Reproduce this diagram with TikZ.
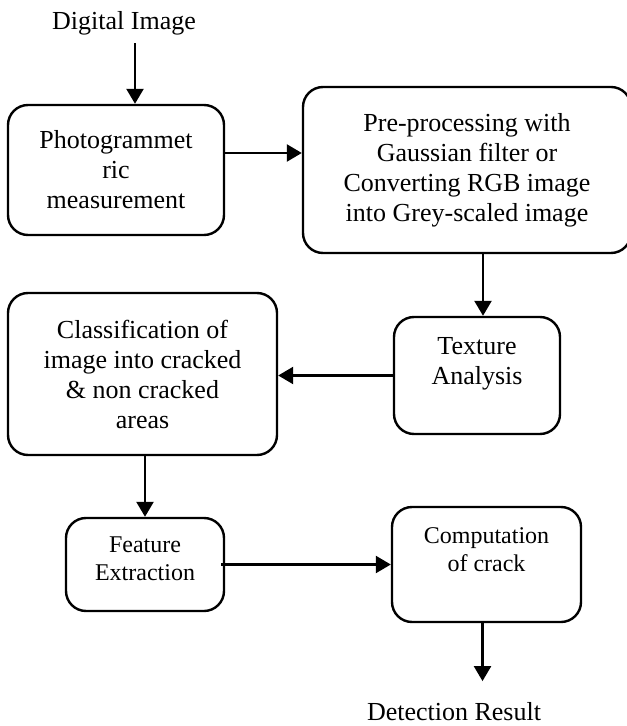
\documentclass[tikz,border=0pt]{standalone}
\usepackage{fontspec}
\setmainfont{Liberation Serif}
\usetikzlibrary{arrows.meta}
\begin{document}
\begin{tikzpicture}[x=0.5pt, y=-0.5pt, line width=1.2pt,
  main/.style = {draw, rounded corners=10pt, align=center, inner sep=0pt, font=\fontsize{13}{15}\selectfont},
  txt/.style = {align=center, font=\fontsize{13}{15}\selectfont},
  small/.style = {align=center, font=\fontsize{12}{13.8}\selectfont},
  arr/.style = {-{Triangle[width=8.5pt,length=7.5pt]}}]
\useasboundingbox (0,0) rectangle (626,726);

\node[txt, anchor=base] (0) at (124,30) {Digital Image};
\node[main, minimum width=108pt, minimum height=65pt] (1) at (116,170) {Photogrammet\\ric\\measurement};
\node[main, minimum width=164pt, minimum height=83pt] (2) at (467,170) {Pre-processing with\\Gaussian filter or\\Converting RGB image\\into Grey-scaled image};
\node[main, minimum width=83pt, minimum height=58.5pt] (3) at (477,375.5) {};
\node[txt] (3t) at ([yshift=6pt]3.center) {Texture\\Analysis};
\node[main, minimum width=134.5pt, minimum height=81pt] (4) at (142.5,374) {Classification of\\image into cracked\\\& non cracked\\areas};
\node[main, minimum width=79pt, minimum height=46.5pt] (5) at (145,564.5) {};
\node[small] (5t) at ([yshift=3pt]5.center) {Feature\\Extraction};
\node[main, minimum width=94.5pt, minimum height=57.5pt] (6) at (486.5,564.5) {};
\node[small] (6t) at ([yshift=7.5pt]6.center) {Computation\\of crack};
\node[txt, anchor=base] (7) at (454,720) {Detection Result};

% flow between the stages
\draw[arr] ([xshift=5.5pt]0.south) -- ([xshift=5.5pt]0.south |- 1.north);
\draw[arr] ([yshift=8.5pt]1.east) -- ([yshift=8.5pt]1.east -| 2.west);
\draw[arr] ([xshift=8pt]2.south) -- ([xshift=8pt]2.south |- 3.north);
\draw[arr] (3.west) -- (3.west -| 4.east);
\draw[arr] (5.north |- 4.south) -- (5.north);
\draw[arr] ([xshift=-2pt]5.east) -- (5.east -| 6.west);
\draw[arr, shorten >=6.5pt] ([xshift=-2pt]6.south) -- ([xshift=-2pt]6.south |- 7.north);
\end{tikzpicture}
\end{document}
